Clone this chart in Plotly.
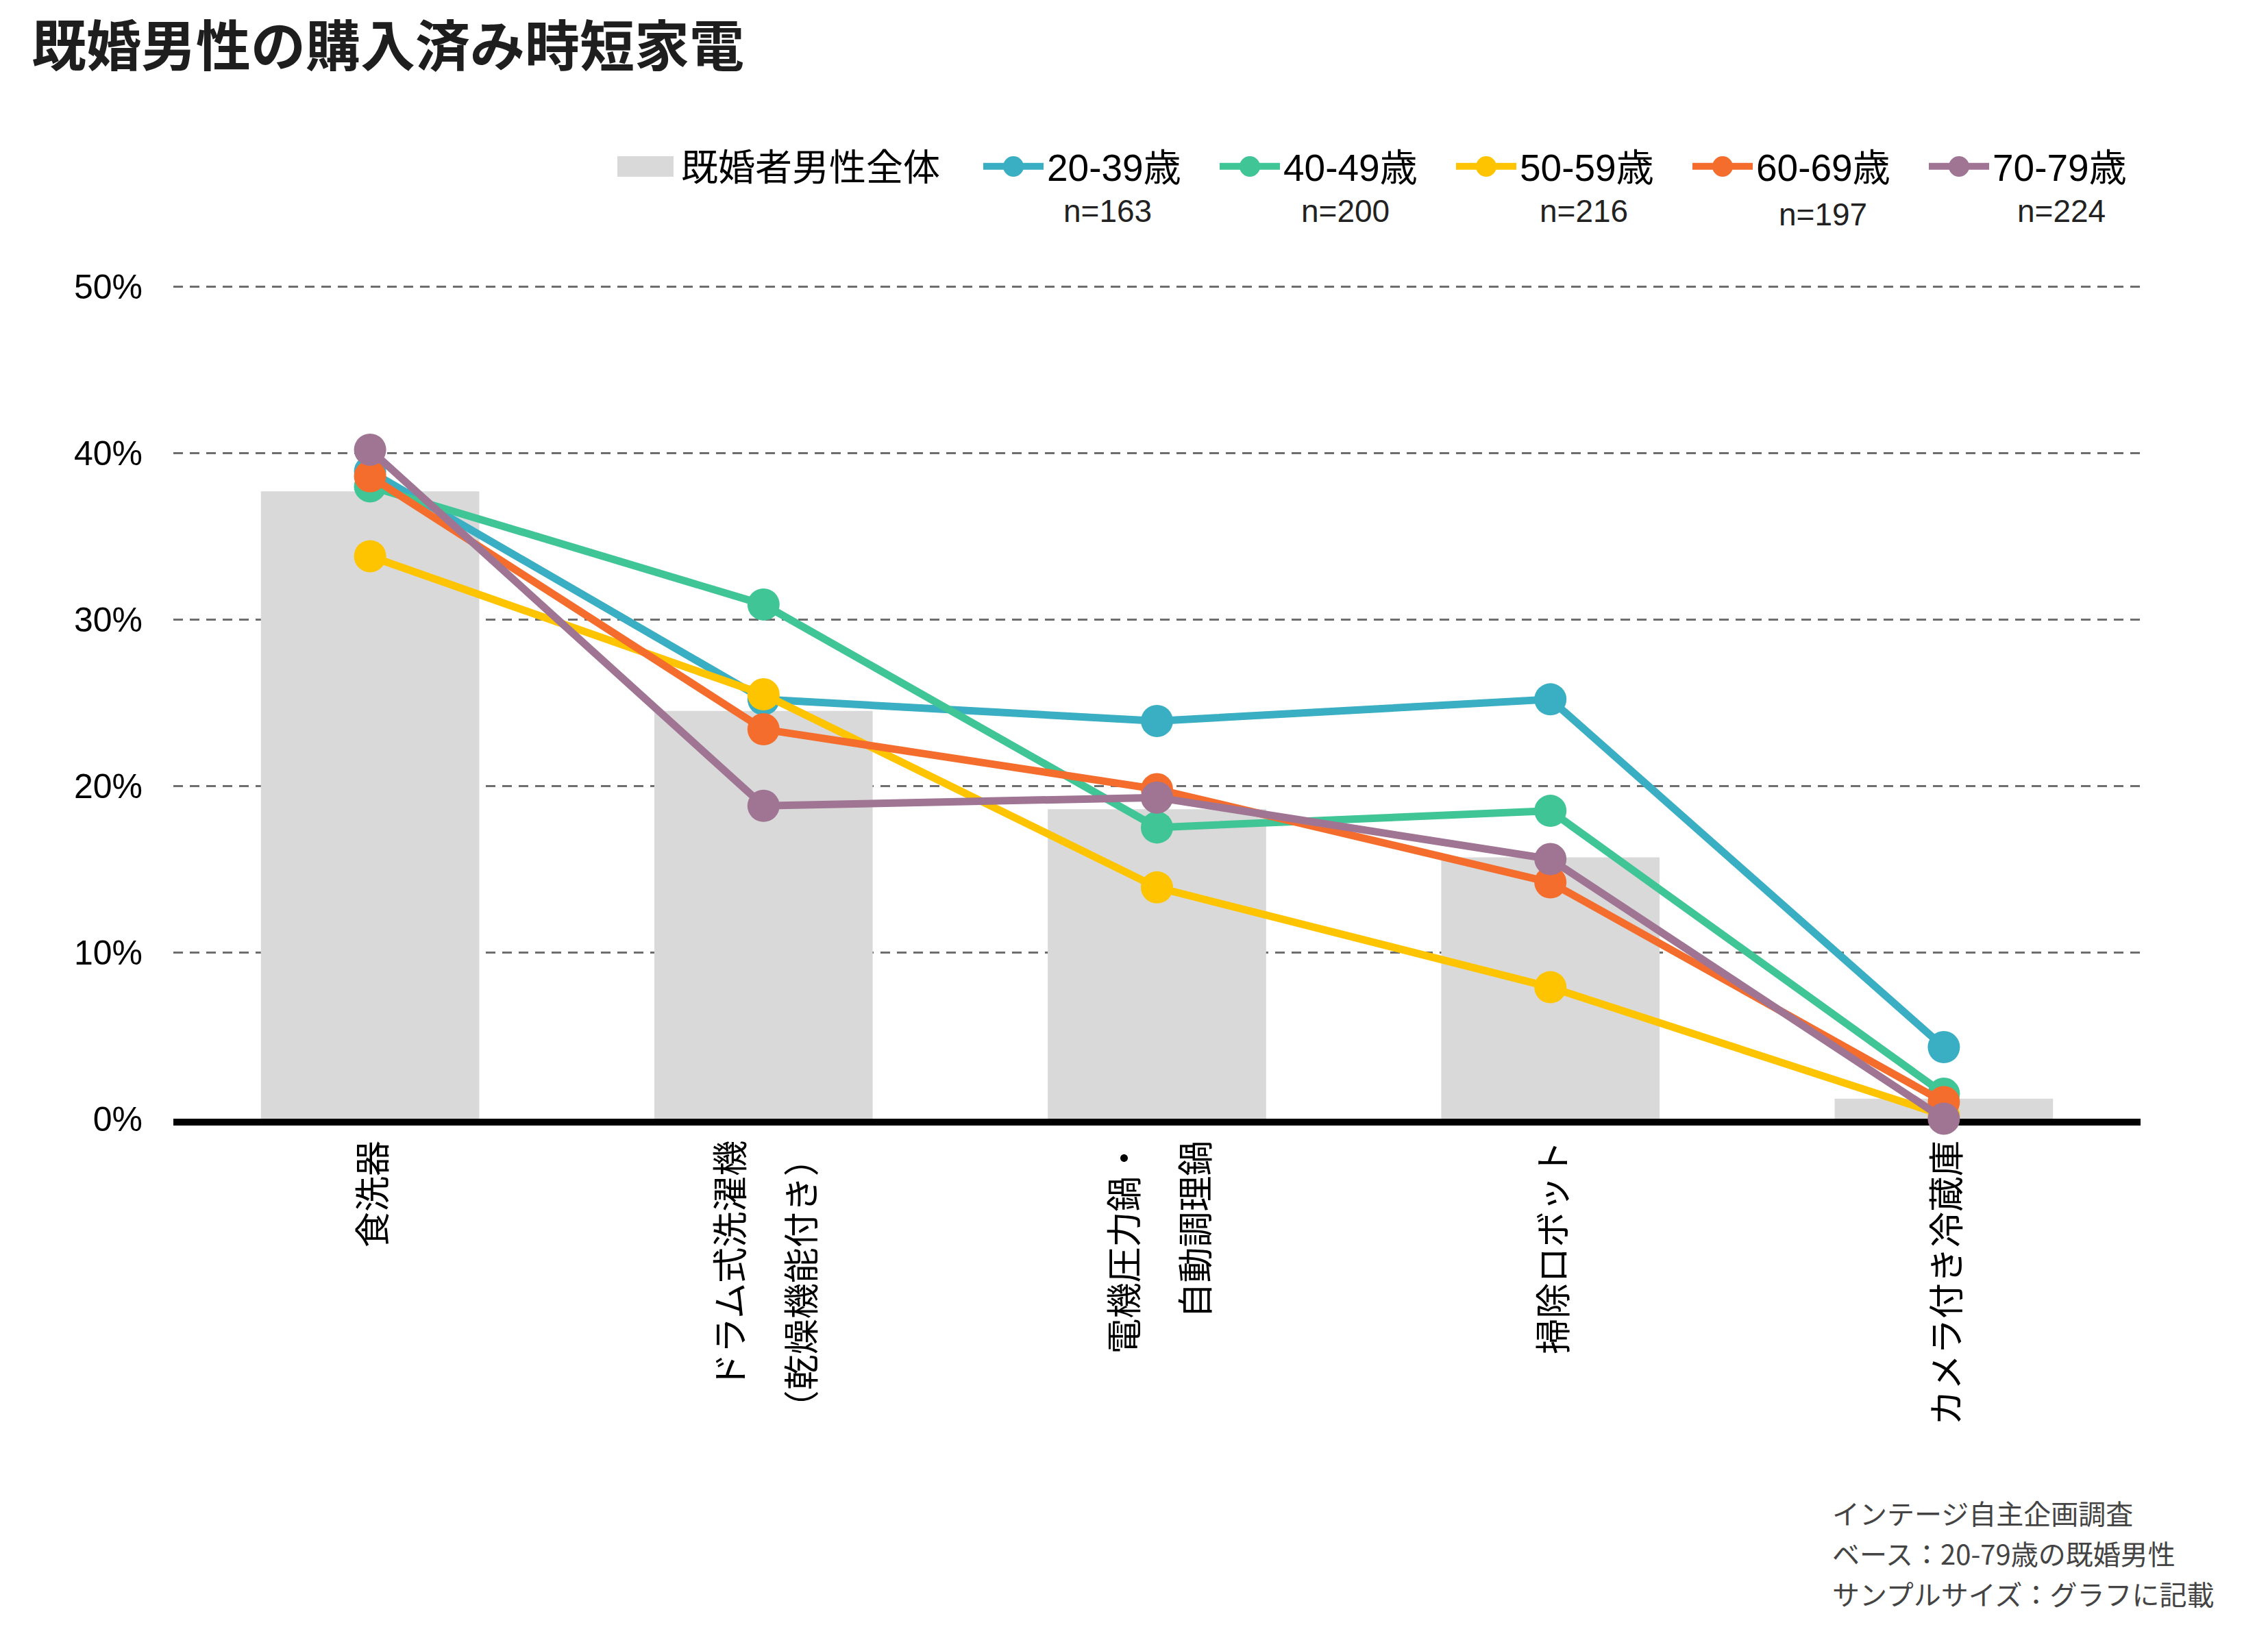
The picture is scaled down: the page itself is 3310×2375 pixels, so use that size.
import plotly.graph_objects as go

# ---------------- data ----------------
categories = ["食洗器", "ドラム式洗濯機（乾燥機能付き）", "電機圧力鍋・自動調理鍋", "掃除ロボット", "カメラ付き冷蔵庫"]
category_label_lines = [
    ["食洗器"],
    ["ドラム式洗濯機", "（乾燥機能付き）"],
    ["電機圧力鍋・", "自動調理鍋"],
    ["掃除ロボット"],
    ["カメラ付き冷蔵庫"],
]
overall_name = "既婚者男性全体"
overall = [37.7, 24.5, 18.6, 15.7, 1.2]

age_groups = ["20-39歳", "40-49歳", "50-59歳", "60-69歳", "70-79歳"]
sample_sizes = ["n=163", "n=200", "n=216", "n=197", "n=224"]
age_20_39 = [38.9, 25.2, 23.9, 25.2, 4.3]
age_40_49 = [38.0, 30.9, 17.5, 18.5, 1.5]
age_50_59 = [33.8, 25.5, 13.9, 7.9, 0.2]
age_60_69 = [38.6, 23.4, 19.8, 14.2, 1.0]
age_70_79 = [40.2, 18.8, 19.3, 15.6, 0.0]
age_values = [age_20_39, age_40_49, age_50_59, age_60_69, age_70_79]

y_ticks = [0, 10, 20, 30, 40, 50]
y_tick_labels = ["0%", "10%", "20%", "30%", "40%", "50%"]

title_text = "既婚男性の購入済み時短家電"
footnote_lines = ["インテージ自主企画調査", "ベース：20-79歳の既婚男性", "サンプルサイズ：グラフに記載"]

# ---------------- styles ----------------
W, H = 3310, 2375
Y_TOP = 50.1
M_L, M_R, M_T, M_B = 253, 186, 416, 742
PLOT_W = W - M_L - M_R
PLOT_H = H - M_T - M_B

line_colors = ["#3AAEC3", "#40C596", "#FFC400", "#F46D2C", "#A07594"]
bar_color = "#D9D9D9"
JP = "Noto Sans CJK JP"
LAT = "Liberation Sans, Arial, Noto Sans CJK JP"

LEGEND_Y_PX = 243
LEG1_X_PX = 1430      # left of first line legend entry
LEG_ITEMWIDTH = 88
LEG_ENTRYWIDTH = 242
LEG_STEP = LEG_ITEMWIDTH + 10 + LEG_ENTRYWIDTH + 5
LEG2_X_PX = 896


def px_to_paper_x(px):
    return (px - M_L) / PLOT_W


def px_to_paper_y(py):
    return (H - M_B - py) / PLOT_H


fig = go.Figure()

fig.add_trace(go.Bar(
    x=categories, y=overall, name=overall_name,
    marker=dict(color=bar_color, line=dict(width=0)),
    width=0.555, legend="legend2",
    hoverinfo="skip",
))

for name, vals, col in zip(age_groups, age_values, line_colors):
    fig.add_trace(go.Scatter(
        x=categories, y=vals, name=name, mode="lines+markers",
        line=dict(color=col, width=11),
        marker=dict(color=col, size=47),
        cliponaxis=False, legend="legend",
    ))

annotations = []
# category labels (rotated)
LINE_SEP = 104
for cat, lines in zip(categories, category_label_lines):
    n = len(lines)
    for i, txt in enumerate(lines):
        annotations.append(dict(
            x=cat, xref="x", y=0, yref="paper",
            text=txt, showarrow=False, textangle=-90,
            xanchor="center", yanchor="top",
            xshift=(i - (n - 1) / 2) * LINE_SEP, yshift=-30,
            font=dict(family=JP, size=52, color="#000000"),
        ))

# sample sizes under legend entries
n_centers_px = [1616, 1963, 2311, 2660, 3008]
n_y_px = [308, 308, 308, 313, 308]
for txt, cx, cy in zip(sample_sizes, n_centers_px, n_y_px):
    annotations.append(dict(
        x=px_to_paper_x(cx), xref="paper", y=px_to_paper_y(cy), yref="paper",
        text=txt, showarrow=False, xanchor="center", yanchor="middle",
        font=dict(family=LAT, size=46, color="#222222"),
    ))

# footnote (one annotation per line)
for i, txt in enumerate(footnote_lines):
    annotations.append(dict(
        x=px_to_paper_x(2672), xref="paper", y=px_to_paper_y(2208 + i * 59), yref="paper",
        text=txt, showarrow=False, align="left",
        xanchor="left", yanchor="middle",
        font=dict(family=JP, size=40, color="#444444"),
    ))

# larger legend symbols (decoration over the native legend symbols)
shapes = []
shapes.append(dict(
    type="rect", xref="paper", yref="paper", layer="above",
    xsizemode="pixel", ysizemode="pixel",
    xanchor=px_to_paper_x(LEG2_X_PX + 5), yanchor=px_to_paper_y(LEGEND_Y_PX),
    x0=0, x1=82, y0=-15, y1=15,
    fillcolor=bar_color, line=dict(width=0),
))
for k, col in enumerate(line_colors):
    cx = LEG1_X_PX + (LEG_ITEMWIDTH + 10) / 2 + k * LEG_STEP
    shapes.append(dict(
        type="circle", xref="paper", yref="paper", layer="above",
        xsizemode="pixel", ysizemode="pixel",
        xanchor=px_to_paper_x(cx), yanchor=px_to_paper_y(LEGEND_Y_PX),
        x0=-15, x1=15, y0=-15, y1=15,
        fillcolor=col, line=dict(width=0),
    ))

fig.update_layout(
    width=W, height=H,
    margin=dict(l=M_L, r=M_R, t=M_T, b=M_B, autoexpand=False),
    paper_bgcolor="white", plot_bgcolor="white",
    title=dict(
        text=f"<b>{title_text}</b>", x=46 / W, xanchor="left", xref="container",
        y=1 - 68 / H, yanchor="middle", yref="container",
        font=dict(family=JP, size=80, color="#1E1E1E", weight=900),
    ),
    showlegend=True,
    legend=dict(
        orientation="h", x=px_to_paper_x(LEG1_X_PX), xanchor="left",
        y=px_to_paper_y(LEGEND_Y_PX), yanchor="middle",
        font=dict(family=LAT, size=55, color="#000000"),
        itemwidth=LEG_ITEMWIDTH, entrywidth=LEG_ENTRYWIDTH, entrywidthmode="pixels",
        bgcolor="rgba(0,0,0,0)", traceorder="normal",
    ),
    legend2=dict(
        orientation="h", x=px_to_paper_x(LEG2_X_PX), xanchor="left",
        y=px_to_paper_y(LEGEND_Y_PX), yanchor="middle",
        font=dict(family=JP, size=54, color="#000000"),
        itemwidth=LEG_ITEMWIDTH, bgcolor="rgba(0,0,0,0)",
    ),
    xaxis=dict(
        type="category", showticklabels=False, ticks="",
        showgrid=False, zeroline=False,
        showline=True, linecolor="#000000", linewidth=10,
        layer="below traces", range=[-0.5, 4.5],
    ),
    yaxis=dict(
        range=[0, Y_TOP], tickmode="array", tickvals=y_ticks, ticktext=y_tick_labels,
        showgrid=True, gridcolor="#6E6E6E", gridwidth=2.5, griddash="14px,10px",
        zeroline=False, showline=False, ticks="",
        ticklabelstandoff=44,
        tickfont=dict(family=LAT, size=50, color="#000000"),
    ),
    annotations=annotations,
    shapes=shapes,
)

fig.write_html("out.html")
